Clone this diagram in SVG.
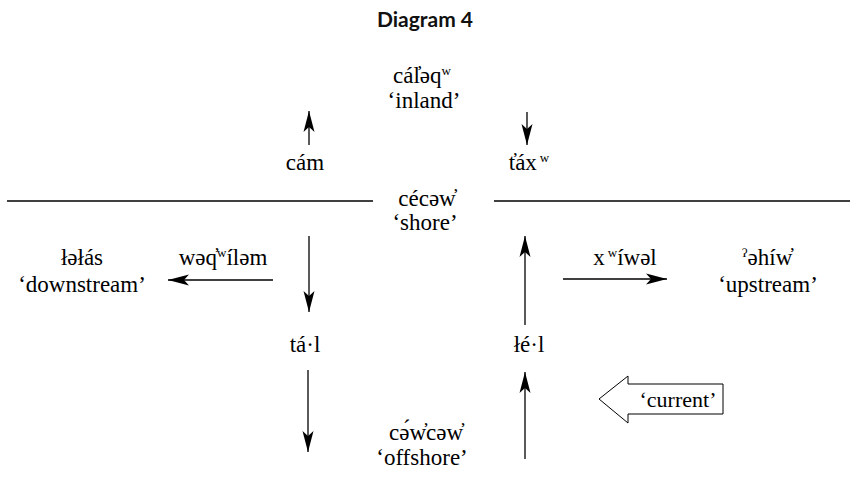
<svg xmlns="http://www.w3.org/2000/svg" width="851" height="500" viewBox="0 0 851 500">
<defs>
<style>
.t{font-family:'Liberation Serif','Times New Roman',Times,serif;font-size:23px;fill:#000;text-anchor:middle}
.s{font-size:13px}
.title{font-family:Lato,'Open Sans',sans-serif;font-weight:bold;font-size:21px;fill:#111;text-anchor:middle}
.ln{stroke:#000;stroke-width:1.3;fill:none}
.ar{stroke:#000;stroke-width:1.3;fill:none;marker-end:url(#ah)}
</style>
<marker id="ah" markerUnits="userSpaceOnUse" markerWidth="22" markerHeight="12" refX="21" refY="6" orient="auto" viewBox="0 0 22 12">
<path d="M0,0.5 L21,6 L0,11.5 L5,6 Z" fill="#000"/>
</marker>
</defs>
<rect width="851" height="500" fill="#fff"/>
<text class="title" x="425" y="27">Diagram 4</text>
<g id="connectors">
<line class="ln" x1="7" y1="201" x2="373" y2="201"/>
<line class="ln" x1="494" y1="201" x2="850" y2="201"/>
<line class="ar" x1="309" y1="145" x2="309" y2="111"/>
<line class="ar" x1="527" y1="112" x2="527" y2="145"/>
<line class="ar" x1="273" y1="280" x2="168" y2="280"/>
<line class="ar" x1="563" y1="279" x2="667" y2="279"/>
<line class="ar" x1="309" y1="236" x2="309" y2="312"/>
<line class="ar" x1="525" y1="325" x2="525" y2="236"/>
<line class="ar" x1="308" y1="370" x2="308" y2="452"/>
<line class="ar" x1="525" y1="459" x2="525" y2="372"/>
</g>
<g font-family="Liberation Serif, Times New Roman, serif">
<g id="inland">
<text class="t" x="422" y="83">cál̓əq<tspan class="s" dy="-8">w</tspan></text>
<text class="t" x="424" y="108">‘inland’</text>
</g>
<g id="cam"><text class="t" x="305" y="170">cám</text></g>
<g id="tax"><text class="t" x="529" y="170">t̓áx<tspan class="s" dx="3" dy="-8">w</tspan></text></g>
<g id="shore">
<text class="t" x="427" y="206">cécəw̓</text>
<text class="t" x="425" y="230">‘shore’</text>
</g>
<g id="downstream">
<text class="t" x="82" y="265">łəłás</text>
<text class="t" x="82" y="292">‘downstream’</text>
</g>
<g id="waqwilam"><text class="t" x="223" y="265">wəq̓<tspan class="s" dy="-8">w</tspan><tspan dy="8">íləm</tspan></text></g>
<g id="xwiwal"><text class="t" x="625" y="265">x<tspan class="s" dx="3" dy="-8">w</tspan><tspan dy="8">íwəl</tspan></text></g>
<g id="upstream">
<text class="t" x="767" y="265"><tspan class="s" dy="-8">ʔ</tspan><tspan dy="8">əhíw̓</tspan></text>
<text class="t" x="768" y="292">‘upstream’</text>
</g>
<g id="tal"><text class="t" x="305" y="352">tá·l</text></g>
<g id="lel"><text class="t" x="529" y="352">łé·l</text></g>
<g id="offshore">
<text class="t" x="426" y="440">cə́w̓cəw̓</text>
<text class="t" x="422" y="465">‘offshore’</text>
</g>
<g id="current">
<polygon points="599,399 628,376 628,384 723,384 723,414 628,414 628,423" fill="#fff" stroke="#000" stroke-width="1"/>
<text class="t" x="678" y="407" style="font-size:22px">‘current’</text>
</g>
</g>
</svg>
